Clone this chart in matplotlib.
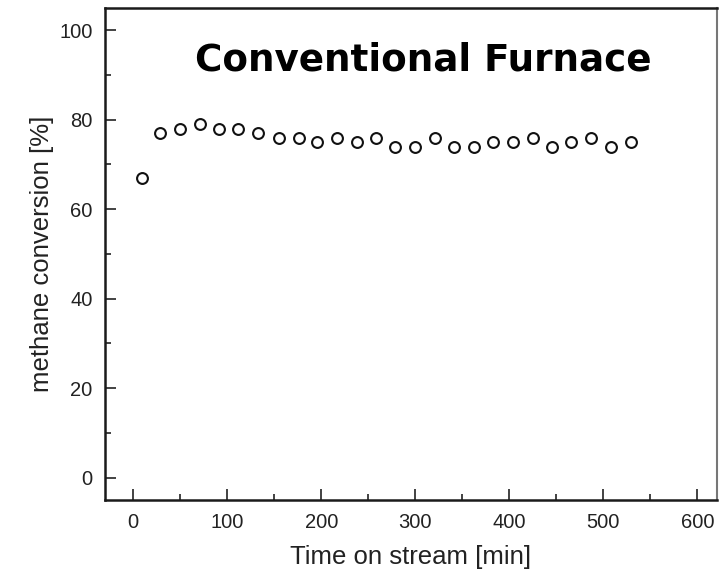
import matplotlib.pyplot as plt
from matplotlib.ticker import MultipleLocator

# methane conversion over time on stream
time_min = [9, 29, 50, 71, 91, 112, 133, 155, 176, 196, 217, 238, 258,
            279, 300, 321, 341, 362, 383, 404, 425, 445, 466, 487, 508, 529]
conversion = [67, 77, 78, 79, 78, 78, 77, 76, 76, 75, 76, 75, 76,
              74, 74, 76, 74, 74, 75, 75, 76, 74, 75, 76, 74, 75]

plt.rcParams['font.family'] = ['Liberation Sans', 'DejaVu Sans']

fig = plt.figure(figsize=(7.26, 5.71), dpi=100)
ax = fig.add_axes([0.1446, 0.1243, 0.843, 0.862])

ax.plot(time_min, conversion, 'o', markersize=7.8, markerfacecolor='none',
        markeredgecolor='#111111', markeredgewidth=1.5)

ax.set_xlim(-30, 621)
ax.set_ylim(-5, 105)
ax.xaxis.set_major_locator(MultipleLocator(100))
ax.xaxis.set_minor_locator(MultipleLocator(50))
ax.yaxis.set_major_locator(MultipleLocator(20))
ax.yaxis.set_minor_locator(MultipleLocator(10))
ax.tick_params(which='both', direction='in', top=False, right=False,
               labelsize=14.5, colors='#222222', width=1.2)
ax.tick_params(which='major', length=8, pad=9)
ax.tick_params(which='minor', length=4)

for side in ['left', 'bottom', 'top']:
    ax.spines[side].set_linewidth(1.8)
    ax.spines[side].set_color('#1a1a1a')
ax.spines['right'].set_linewidth(1.5)
ax.spines['right'].set_color('#777777')

ax.set_xlabel('Time on stream [min]', fontsize=18.5, color='#222222', labelpad=10)
ax.set_ylabel('methane conversion [%]', fontsize=18.5, color='#222222', labelpad=4)

title = fig.text(0.583, 0.895, 'Conventional Furnace', ha='center', va='center',
                 fontsize=26, fontweight='bold', family=['DejaVu Sans'],
                 color='black')
# fit the heading to its box width (about 457 px)
fig.canvas.draw()
w = title.get_window_extent().width
title.set_fontsize(26 * 457 / w)

fig.savefig('out.png', dpi=100)
